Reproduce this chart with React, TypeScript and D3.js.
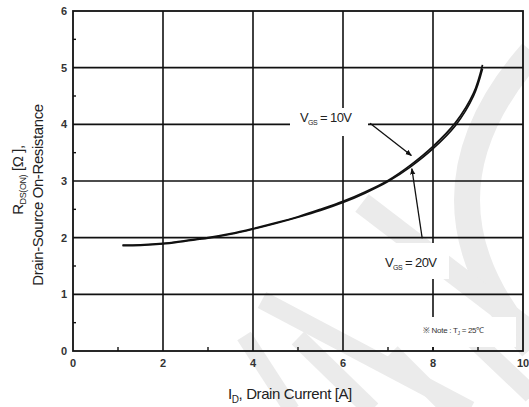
import React, { useEffect, useRef } from "react";
import * as d3 from "d3";

const W = 529;
const H = 407;
const frame = { left: 73, right: 523, top: 11, bottom: 351 };

const xMajor = [0, 2, 4, 6, 8, 10];
const xMinor = [1, 3, 5, 7, 9];
const yMajor = [0, 1, 2, 3, 4, 5, 6];
const yMinor = [0.5, 1.5, 2.5, 3.5, 4.5, 5.5];

// I_D [A] vs R_DS(on) [ohm]
const current = [1.1, 1.5, 2, 2.5, 3, 3.5, 4, 4.5, 5, 5.5, 6, 6.5, 7, 7.5, 8, 8.5, 8.9, 9.1];
const rds10 = [1.87, 1.875, 1.9, 1.95, 2.0, 2.07, 2.16, 2.26, 2.37, 2.5, 2.64, 2.81, 3.01, 3.28, 3.61, 4.03, 4.55, 5.05];
const rds20 = [1.86, 1.865, 1.89, 1.94, 1.99, 2.06, 2.15, 2.25, 2.36, 2.48, 2.62, 2.79, 2.99, 3.25, 3.57, 3.98, 4.5, 4.98];

// annotation arrows, [x, y] in data units
const arrow10 = [[6.6, 4.02], [7.52, 3.45]];
const arrow20 = [[7.76, 1.99], [7.53, 3.22]];

export default function App() {
  const svgRef = useRef(null);

  useEffect(() => {
    const svg = d3.select(svgRef.current);
    svg.selectAll("*").remove();

    const x = d3.scaleLinear().domain([0, 10]).range([frame.left, frame.right]);
    const y = d3.scaleLinear().domain([0, 6]).range([frame.bottom, frame.top]);

    svg.append("rect").attr("width", W).attr("height", H).attr("fill", "#fff");

    const defs = svg.append("defs");
    defs
      .append("marker")
      .attr("id", "head")
      .attr("viewBox", "0 0 10 10")
      .attr("refX", 9)
      .attr("refY", 5)
      .attr("markerWidth", 5)
      .attr("markerHeight", 5)
      .attr("orient", "auto")
      .append("path")
      .attr("d", "M0,1 L10,5 L0,9 Z")
      .attr("fill", "#111");

    // faint watermark in the background
    const wm = svg.append("g").attr("fill", "none").attr("stroke", "#ebebeb");
    wm.append("path").attr("d", "M 532 52 Q 402 200 532 348").attr("stroke-width", 26);
    wm.append("path").attr("d", "M 362 203 L 532 333").attr("stroke-width", 22);
    wm.append("path").attr("d", "M 244 336 L 292 410").attr("stroke-width", 16);
    wm.append("path").attr("d", "M 298 338 L 372 410").attr("stroke-width", 18);
    wm.append("path").attr("d", "M 262 300 L 470 410").attr("stroke-width", 18);
    wm.append("path").attr("d", "M 392 352 L 450 410").attr("stroke-width", 16);
    wm.append("path").attr("d", "M 470 336 L 532 395").attr("stroke-width", 18);

    // grid
    const grid = svg.append("g").attr("stroke", "#111").attr("stroke-width", 1.6);
    grid
      .selectAll("line.gx")
      .data(xMajor.slice(1, -1))
      .join("line")
      .attr("x1", (d) => x(d))
      .attr("x2", (d) => x(d))
      .attr("y1", y(6))
      .attr("y2", y(0));
    grid
      .selectAll("line.gy")
      .data(yMajor.slice(1, -1))
      .join("line")
      .attr("class", "gy")
      .attr("x1", x(0))
      .attr("x2", x(10))
      .attr("y1", (d) => y(d))
      .attr("y2", (d) => y(d));

    // label masks
    svg.append("rect").attr("x", 290).attr("y", 108).attr("width", 78).attr("height", 28).attr("fill", "#fff");
    svg.append("rect").attr("x", 383).attr("y", 243).attr("width", 66).attr("height", 36).attr("fill", "#fff");
    svg.append("rect").attr("x", 416).attr("y", 317).attr("width", 100).attr("height", 30).attr("fill", "#fff");

    // minor ticks
    const ticks = svg.append("g").attr("stroke", "#111").attr("stroke-width", 1.4);
    ticks
      .selectAll("line.tx")
      .data(xMinor.concat([8]))
      .join("line")
      .attr("class", "tx")
      .attr("x1", (d) => x(d))
      .attr("x2", (d) => x(d))
      .attr("y1", y(0))
      .attr("y2", y(0) - 4);
    ticks
      .selectAll("line.ty")
      .data(yMinor)
      .join("line")
      .attr("class", "ty")
      .attr("x1", x(0))
      .attr("x2", x(0) + 3)
      .attr("y1", (d) => y(d))
      .attr("y2", (d) => y(d));

    // frame
    svg
      .append("rect")
      .attr("x", x(0))
      .attr("y", y(6))
      .attr("width", x(10) - x(0))
      .attr("height", y(0) - y(6))
      .attr("fill", "none")
      .attr("stroke", "#111")
      .attr("stroke-width", 1.8);

    // curves
    const line = d3
      .line<number>()
      .x((_, i) => x(current[i]))
      .y((d) => y(d))
      .curve(d3.curveCatmullRom.alpha(0.5));
    [rds10, rds20].forEach((s) => {
      svg
        .append("path")
        .attr("d", line(s))
        .attr("fill", "none")
        .attr("stroke", "#111")
        .attr("stroke-width", 1.7);
    });

    // arrows
    [arrow10, arrow20].forEach((a) => {
      svg
        .append("line")
        .attr("x1", x(a[0][0]))
        .attr("y1", y(a[0][1]))
        .attr("x2", x(a[1][0]))
        .attr("y2", y(a[1][1]))
        .attr("stroke", "#111")
        .attr("stroke-width", 1.3)
        .attr("marker-end", "url(#head)");
    });

    // tick labels
    const font = "'Liberation Sans', Arial, sans-serif";
    svg
      .append("g")
      .selectAll("text")
      .data(xMajor)
      .join("text")
      .attr("x", (d) => x(d))
      .attr("y", y(0) + 16)
      .attr("text-anchor", "middle")
      .attr("font-family", font)
      .attr("font-size", 11)
      .attr("font-weight", "bold")
      .attr("fill", "#333")
      .text((d) => d);
    svg
      .append("g")
      .selectAll("text")
      .data(yMajor)
      .join("text")
      .attr("x", x(0) - 6)
      .attr("y", (d) => y(d) + 4)
      .attr("text-anchor", "end")
      .attr("font-family", font)
      .attr("font-size", 11)
      .attr("font-weight", "bold")
      .attr("fill", "#333")
      .text((d) => d);

    // axis titles
    const xt = svg
      .append("text")
      .attr("x", 228)
      .attr("y", 399)
      .attr("font-family", font)
      .attr("font-size", 15)
      .attr("letter-spacing", -0.4)
      .attr("fill", "#222");
    xt.append("tspan").text("I");
    xt.append("tspan").attr("font-size", 10).attr("dy", 4).text("D");
    xt.append("tspan").attr("dy", -4).text(", Drain Current [A]");

    const yt1 = svg
      .append("text")
      .attr("transform", "translate(23,180) rotate(-90)")
      .attr("text-anchor", "middle")
      .attr("font-family", font)
      .attr("font-size", 15)
      .attr("letter-spacing", -0.4)
      .attr("fill", "#222");
    yt1.append("tspan").text("R");
    yt1.append("tspan").attr("font-size", 9).attr("dy", 3).text("DS(ON)");
    yt1.append("tspan").attr("dy", -3).text(" [Ω ],");

    svg
      .append("text")
      .attr("transform", "translate(43,195) rotate(-90)")
      .attr("text-anchor", "middle")
      .attr("font-family", font)
      .attr("font-size", 15)
      .attr("letter-spacing", -0.4)
      .attr("fill", "#222")
      .text("Drain-Source On-Resistance");

    // annotations
    const vLabel = (tx: number, ty: number, v: string) => {
      const t = svg
        .append("text")
        .attr("x", tx)
        .attr("y", ty)
        .attr("font-family", font)
        .attr("font-size", 13)
        .attr("letter-spacing", -0.6)
        .attr("fill", "#222");
      t.append("tspan").text("V");
      t.append("tspan").attr("font-size", 7).attr("dy", 3).text("GS");
      t.append("tspan").attr("dy", -3).text(" = " + v);
    };
    vLabel(300, 122, "10V");
    vLabel(385, 267, "20V");

    const note = svg
      .append("text")
      .attr("x", 423)
      .attr("y", 333)
      .attr("font-family", font)
      .attr("font-size", 8)
      .attr("letter-spacing", -0.3)
      .attr("fill", "#333");
    note.append("tspan").text("※ Note : T");
    note.append("tspan").attr("font-size", 5).attr("dy", 2).text("J");
    note.append("tspan").attr("dy", -2).text(" = 25℃");
  }, []);

  return (
    <svg
      ref={svgRef}
      width={W}
      height={H}
      style={{ position: "absolute", left: 0, top: 0 }}
    ></svg>
  );
}
